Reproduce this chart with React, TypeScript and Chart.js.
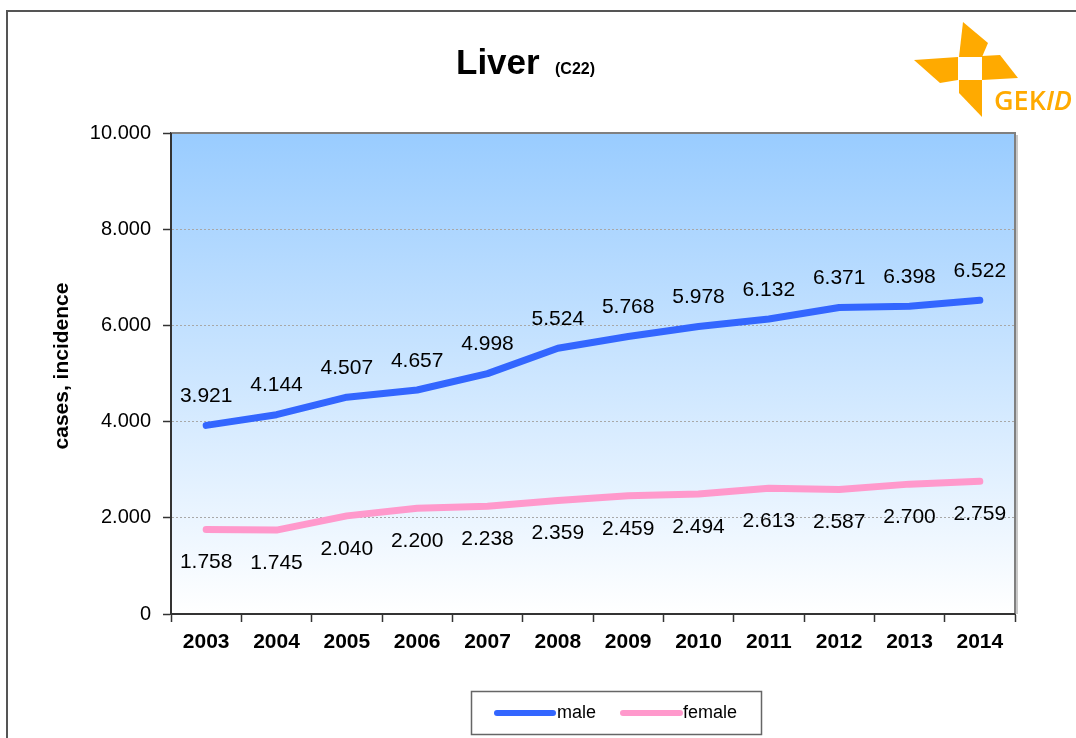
import React, { useEffect, useRef } from "react";
import { Chart, registerables } from "chart.js";

Chart.register(...registerables);

const years = ["2003", "2004", "2005", "2006", "2007", "2008", "2009", "2010", "2011", "2012", "2013", "2014"];
const maleValues = [3921, 4144, 4507, 4657, 4998, 5524, 5768, 5978, 6132, 6371, 6398, 6522];
const femaleValues = [1758, 1745, 2040, 2200, 2238, 2359, 2459, 2494, 2613, 2587, 2700, 2759];
const seriesNames = ["male", "female"];
const yAxisTitle = "cases, incidence";
const yMin = 0;
const yMax = 10000;
const yStep = 2000;

const FONT = "'Liberation Sans', Arial, Helvetica, sans-serif";

function fmt(n: number): string {
  const s = Math.round(n).toString();
  return s.replace(/\B(?=(\d{3})+(?!\d))/g, ".");
}

const decorPlugin = {
  id: "decor",
  beforeDraw(chart: any) {
    const { ctx, chartArea: a } = chart;
    ctx.save();
    ctx.fillStyle = "#ffffff";
    ctx.fillRect(0, 0, chart.width, chart.height);
    ctx.strokeStyle = "#555555";
    ctx.lineWidth = 2;
    ctx.strokeRect(7, 11, chart.width + 20, chart.height + 20);
    const g = ctx.createLinearGradient(0, a.top, 0, a.bottom);
    g.addColorStop(0, "#99CCFF");
    g.addColorStop(1, "#FFFFFF");
    ctx.fillStyle = g;
    ctx.fillRect(a.left, a.top, a.right - a.left, a.bottom - a.top);
    ctx.restore();
  },
  beforeDatasetsDraw(chart: any) {
    const { ctx, chartArea: a } = chart;
    ctx.save();
    ctx.setLineDash([]);
    ctx.strokeStyle = "#C8C8C8";
    ctx.lineWidth = 2;
    ctx.beginPath();
    ctx.moveTo(a.right + 2, a.top + 2);
    ctx.lineTo(a.right + 2, a.bottom);
    ctx.stroke();
    ctx.strokeStyle = "#808080";
    ctx.lineWidth = 2;
    ctx.beginPath();
    ctx.moveTo(a.left, a.top);
    ctx.lineTo(a.right, a.top);
    ctx.lineTo(a.right, a.bottom);
    ctx.stroke();
    // axes
    ctx.strokeStyle = "#333333";
    ctx.beginPath();
    ctx.moveTo(a.left, a.top);
    ctx.lineTo(a.left, a.bottom);
    ctx.lineTo(a.right, a.bottom);
    ctx.stroke();
    ctx.restore();
  },
  afterDatasetsDraw(chart: any) {
    const { ctx } = chart;
    ctx.save();
    ctx.font = `21px ${FONT}`;
    ctx.fillStyle = "#000000";
    ctx.textAlign = "center";
    ctx.textBaseline = "middle";
    chart.data.datasets.forEach((ds: any, di: number) => {
      const meta = chart.getDatasetMeta(di);
      meta.data.forEach((pt: any, i: number) => {
        const v = ds.data[i];
        const y = di === 0 ? pt.y - 29 : pt.y + 33;
        ctx.fillText(fmt(v), pt.x, y);
      });
    });
    ctx.restore();
  },
  afterDraw(chart: any) {
    const { ctx } = chart;
    ctx.save();
    // Title
    ctx.fillStyle = "#000000";
    ctx.textBaseline = "alphabetic";
    ctx.textAlign = "left";
    ctx.font = `bold 35px ${FONT}`;
    ctx.fillText("Liver", 456, 74);
    ctx.font = `bold 16px ${FONT}`;
    ctx.fillText("(C22)", 555, 74);

    // Y axis title
    ctx.save();
    ctx.translate(62, 366);
    ctx.rotate(-Math.PI / 2);
    ctx.textAlign = "center";
    ctx.textBaseline = "middle";
    ctx.font = `bold 21px ${FONT}`;
    ctx.fillText(yAxisTitle, 0, 0);
    ctx.restore();

    // Logo
    ctx.fillStyle = "#FFAA00";
    const polys = [
      [[963, 22], [988, 43], [982, 57], [959, 57]],
      [[914, 60], [958, 57], [958, 80], [940, 83]],
      [[982, 56], [1000, 55], [1018, 78], [982, 80]],
      [[959, 80], [982, 80], [982, 117], [959, 93]],
    ];
    polys.forEach((p) => {
      ctx.beginPath();
      ctx.moveTo(p[0][0], p[0][1]);
      for (let i = 1; i < p.length; i++) ctx.lineTo(p[i][0], p[i][1]);
      ctx.closePath();
      ctx.fill();
    });
    ctx.font = `600 27px 'Open Sans', 'Noto Sans', sans-serif`;
    ctx.fillText("GEK", 994, 110);
    const w = ctx.measureText("GEK").width;
    ctx.font = `italic 600 27px 'Open Sans', 'Noto Sans', sans-serif`;
    ctx.fillText("ID", 994 + w, 110);

    // Legend
    ctx.strokeStyle = "#666666";
    ctx.lineWidth = 1.5;
    ctx.strokeRect(471.5, 691.5, 290, 43);
    const items = [
      { x0: 497, x1: 553, tx: 557 },
      { x0: 623, x1: 680, tx: 683 },
    ];
    chart.data.datasets.forEach((ds: any, i: number) => {
      const it = items[i];
      ctx.strokeStyle = ds.borderColor;
      ctx.lineWidth = 6;
      ctx.lineCap = "round";
      ctx.beginPath();
      ctx.moveTo(it.x0, 713);
      ctx.lineTo(it.x1, 713);
      ctx.stroke();
      ctx.fillStyle = "#000000";
      ctx.font = `18px ${FONT}`;
      ctx.textBaseline = "middle";
      ctx.fillText(ds.label, it.tx, 713);
    });
    ctx.restore();
  },
};

export default function App() {
  const ref = useRef<HTMLCanvasElement | null>(null);
  useEffect(() => {
    if (!ref.current) return;
    const chart = new Chart(ref.current, {
      type: "line",
      data: {
        labels: years,
        datasets: [
          {
            label: seriesNames[0],
            data: maleValues,
            borderColor: "#3366FF",
            backgroundColor: "#3366FF",
            borderWidth: 7,
            pointRadius: 0,
            tension: 0,
            borderCapStyle: "round",
            borderJoinStyle: "round",
          },
          {
            label: seriesNames[1],
            data: femaleValues,
            borderColor: "#FF99CC",
            backgroundColor: "#FF99CC",
            borderWidth: 7,
            pointRadius: 0,
            tension: 0,
            borderCapStyle: "round",
            borderJoinStyle: "round",
          },
        ],
      },
      options: {
        animation: false,
        responsive: false,
        devicePixelRatio: 1,
        layout: { padding: { top: 133, left: 0, right: 61, bottom: 0 } },
        plugins: {
          legend: { display: false },
          title: { display: false },
          tooltip: { enabled: false },
        },
        scales: {
          x: {
            type: "category",
            offset: true,
            grid: {
              offset: true,
              drawOnChartArea: false,
              drawTicks: true,
              tickLength: 8,
              tickColor: "#333333",
              tickWidth: 1.5,
            },
            border: { display: true, color: "#333333", width: 2 },
            ticks: {
              color: "#000000",
              font: { family: FONT, size: 21, weight: "bold" },
              padding: 8,
              maxRotation: 0,
              autoSkip: false,
            },
            afterFit(scale: any) {
              scale.height = 124;
            },
          },
          y: {
            min: yMin,
            max: yMax,
            grid: {
              color: "#A8A8A8",
              lineWidth: 1,
              drawTicks: true,
              tickLength: 8,
              tickColor: "#333333",
              tickWidth: 1.5,
              tickBorderDash: [],
            },
            border: { display: true, color: "#333333", width: 2, dash: [2, 2] },
            ticks: {
              stepSize: yStep,
              color: "#000000",
              font: { family: FONT, size: 20 },
              padding: 12,
              callback: (v: any) => fmt(Number(v)),
            },
            title: { display: false },
            afterFit(scale: any) {
              scale.width = 171;
            },
          },
        },
      },
      plugins: [decorPlugin],
    } as any);
    return () => chart.destroy();
  }, []);
  return (
    <div style={{ position: "absolute", left: 0, top: 0, width: 1076, height: 738 }}>
      <canvas ref={ref} width={1076} height={738} style={{ display: "block" }} />
    </div>
  );
}
